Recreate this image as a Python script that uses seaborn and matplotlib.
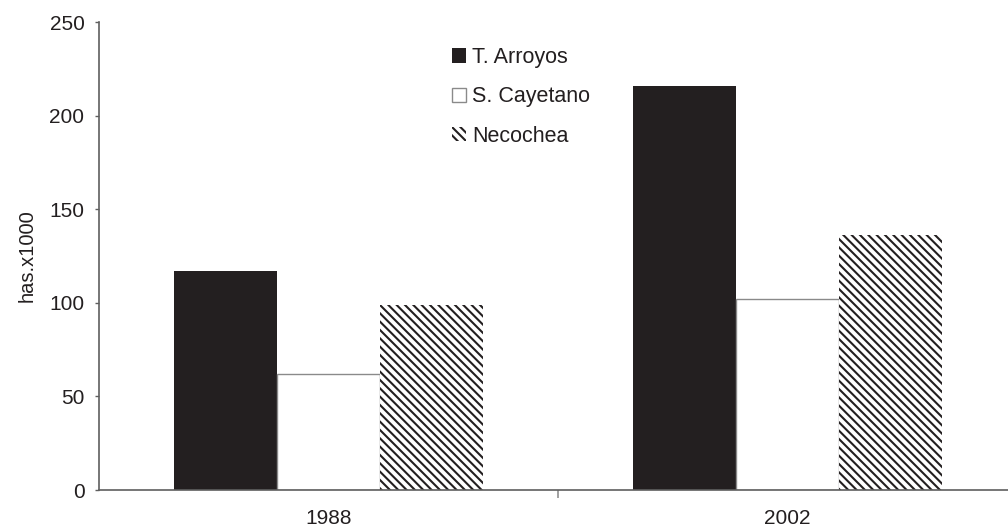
import pandas as pd
import matplotlib
matplotlib.use("Agg")
import matplotlib.pyplot as plt
import seaborn as sns

# values (hectares x 1000)
years = ["1988", "2002"]
regions = ["T. Arroyos", "S. Cayetano", "Necochea"]
t_arroyos = [117, 216]
s_cayetano = [62, 102]
necochea = [99, 136]

df = pd.DataFrame({
    "year": years * 3,
    "region": [r for r in regions for _ in years],
    "value": t_arroyos + s_cayetano + necochea,
})

sns.set_theme(style="white")
plt.rcParams["font.family"] = ["Liberation Sans", "DejaVu Sans"]
plt.rcParams["hatch.linewidth"] = 1.5

ink = "#231f20"
axis_grey = "#5f5f5f"

fig = plt.figure(figsize=(10.08, 5.29), dpi=100)
ax = fig.add_axes([99 / 1008, 1 - 490 / 529, 918 / 1008, 468 / 529])

sns.barplot(
    data=df, x="year", y="value", hue="region", hue_order=regions,
    palette=[ink, "white", "white"], width=0.673, gap=0,
    saturation=1, legend=False, ax=ax,
)

# style each series like the printed figure
for cont, region in zip(ax.containers, regions):
    for bar in cont:
        if region == "T. Arroyos":
            bar.set_facecolor(ink)
            bar.set_edgecolor(ink)
            bar.set_linewidth(0)
        elif region == "S. Cayetano":
            bar.set_facecolor("white")
            bar.set_edgecolor("#8a8a8a")
            bar.set_linewidth(1)
        else:
            bar.set_facecolor("white")
            bar.set_edgecolor(ink)
            bar.set_hatch("\\\\\\\\")
            bar.set_linewidth(0)

ax.set_xlim(-0.5, 1.5)
ax.set_ylim(0, 250)
ax.set_yticks([0, 50, 100, 150, 200, 250])
ax.set_xlabel("")
ax.set_ylabel("has.x1000", fontsize=14.5, color=ink, labelpad=9)

sns.despine(ax=ax)
for side in ["left", "bottom"]:
    ax.spines[side].set_color(axis_grey)
    ax.spines[side].set_linewidth(1.2)

ax.tick_params(axis="y", direction="out", length=3, width=1, color=axis_grey,
               labelsize=15, labelcolor=ink, pad=7.5, left=True)
ax.tick_params(axis="x", which="major", length=0, labelsize=15, labelcolor=ink, pad=14)
ax.set_xticks([0.5], minor=True)
ax.tick_params(axis="x", which="minor", direction="out", length=5.5, width=1.4,
               color="#a0a0a0", bottom=True)

ax.legend(
    ax.containers, regions, frameon=False, loc="upper left",
    bbox_to_anchor=(452 / 1008, 1 - 47 / 529), bbox_transform=fig.transFigure,
    borderpad=0, borderaxespad=0, fontsize=15.5, labelspacing=0.85,
    handlelength=0.65, handleheight=0.65, handletextpad=0.28, labelcolor=ink,
)

fig.savefig("out.png", dpi=100)
